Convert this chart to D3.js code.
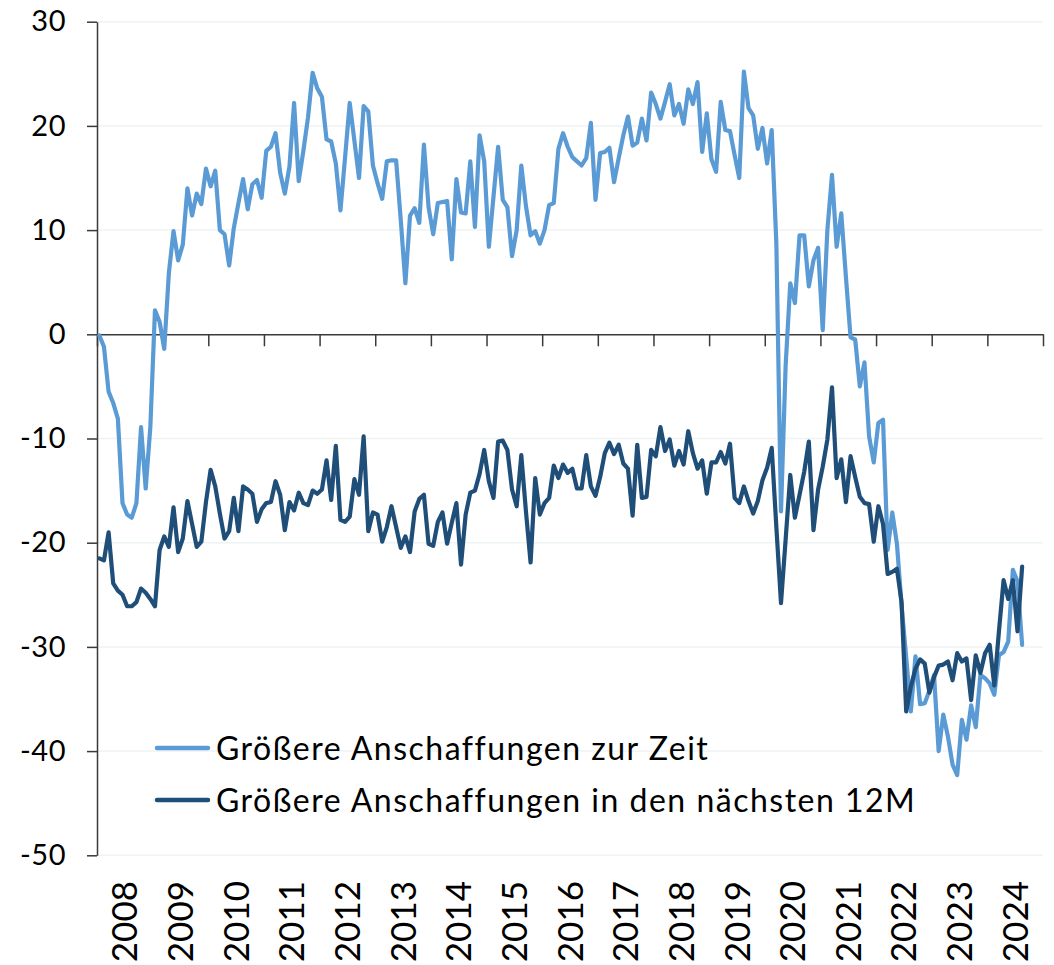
<!DOCTYPE html>
<html>
<head>
<meta charset="utf-8">
<script src="https://cdn.jsdelivr.net/npm/d3@7"></script>
<style>
  body { margin: 0; background: #fff; }
  svg text { font-family: Lato, "Noto Sans", sans-serif; fill: #000; }
</style>
</head>
<body>
<svg id="chart" width="1054" height="965"></svg>
<script>
// Years on the x axis (one band per year)
const years = d3.range(2008, 2025);
const yTicks = [30, 20, 10, 0, -10, -20, -30, -40, -50];

const seriesNames = [
  'Größere Anschaffungen zur Zeit',
  'Größere Anschaffungen in den nächsten 12M',
];

// Monthly values, Jan 2008 .. Aug 2024
const zurZeit = [
  -0.1, -1.2, -5.5, -6.6, -8.1, -16.2, -17.3, -17.6, -16.2, -8.9, -14.8, -8.9,
  2.3, 1.2, -1.4, 5.9, 9.9, 7.1, 8.6, 14.0, 11.4, 13.5, 12.5, 15.9,
  14.2, 15.7, 10.0, 9.6, 6.6, 10.2, 12.6, 14.9, 12.0, 14.4, 14.8, 13.1,
  17.6, 18.0, 19.3, 15.5, 13.5, 16.1, 22.2, 14.7, 17.6, 20.8, 25.1, 23.6,
  22.8, 18.7, 18.5, 16.4, 11.9, 17.0, 22.2, 18.6, 15.0, 21.9, 21.4, 16.2,
  14.5, 13.0, 16.6, 16.7, 16.7, 11.0, 4.9, 11.4, 12.1, 10.7, 18.2, 12.2,
  9.6, 12.6, 12.7, 12.8, 7.2, 14.9, 11.7, 11.6, 16.6, 10.3, 19.1, 16.6,
  8.4, 13.2, 18.0, 12.9, 12.2, 7.5, 10.0, 16.2, 12.3, 9.5, 9.9, 8.7,
  10.0, 12.4, 12.6, 17.8, 19.3, 18.0, 17.0, 16.6, 16.2, 16.9, 20.3, 12.9,
  17.4, 17.5, 17.9, 14.6, 16.9, 19.1, 20.9, 18.1, 18.4, 20.7, 18.6, 23.2,
  22.1, 20.7, 22.3, 24.0, 21.0, 22.1, 20.2, 23.5, 22.1, 24.2, 17.5, 21.2,
  16.8, 15.6, 22.3, 19.6, 19.5, 17.2, 15.0, 25.2, 21.7, 21.0, 17.8, 19.8,
  16.4, 19.6, 8.7, -17.0, -3.0, 4.9, 3.0, 9.5, 9.5, 4.6, 7.1, 8.3,
  0.4, 10.0, 15.3, 8.4, 11.6, 5.5, -0.3, -0.5, -5.0, -2.7, -9.8, -12.3,
  -8.5, -8.2, -20.7, -17.1, -20.1, -26.0, -31.0, -36.2, -30.9, -35.5, -35.4, -34.2,
  -32.7, -40.0, -36.5, -38.6, -41.3, -42.3, -37.0, -38.9, -35.6, -37.7, -32.7, -33.0,
  -33.5, -34.6, -30.8, -30.5, -29.5, -22.6, -23.7, -29.8,
];

const naechste12M = [
  -21.5, -21.7, -19.0, -23.9, -24.6, -25.0, -26.1, -26.1, -25.7, -24.4, -24.8, -25.4,
  -26.1, -20.7, -19.4, -20.4, -16.6, -20.9, -19.6, -16.0, -18.2, -20.4, -19.9, -16.1,
  -13.0, -14.6, -17.2, -19.6, -18.9, -15.7, -18.9, -14.6, -14.9, -15.3, -18.0, -16.8,
  -16.2, -16.1, -14.1, -15.4, -18.8, -16.1, -16.9, -15.2, -16.2, -16.4, -15.0, -15.3,
  -14.9, -12.1, -15.9, -10.7, -17.8, -18.0, -17.5, -13.9, -15.4, -9.8, -18.9, -17.1,
  -17.3, -19.9, -18.5, -16.5, -18.5, -20.5, -19.4, -20.9, -17.0, -15.8, -15.4, -20.1,
  -20.3, -18.0, -17.1, -20.1, -18.1, -16.2, -22.1, -17.3, -15.2, -15.0, -13.4, -11.1,
  -14.1, -15.7, -10.3, -10.2, -11.1, -14.9, -16.5, -11.6, -17.0, -21.9, -13.8, -17.3,
  -16.2, -15.7, -12.6, -13.8, -12.5, -13.3, -12.9, -14.8, -14.8, -11.6, -14.6, -15.5,
  -13.7, -11.4, -10.4, -11.5, -10.6, -12.4, -12.9, -17.4, -10.6, -15.7, -15.6, -11.1,
  -11.7, -8.9, -11.2, -10.1, -12.6, -11.2, -12.5, -9.3, -11.4, -12.9, -12.1, -15.3,
  -12.3, -12.3, -11.3, -12.4, -10.5, -15.7, -16.2, -14.6, -16.0, -17.2, -16.0, -14.0,
  -12.8, -10.9, -18.5, -25.8, -19.7, -13.5, -17.6, -15.4, -13.2, -10.3, -18.8, -14.9,
  -12.7, -10.1, -5.1, -13.8, -12.0, -16.1, -11.7, -13.7, -15.6, -16.2, -16.3, -19.9,
  -16.5, -18.2, -23.0, -22.8, -22.5, -25.7, -36.2, -33.8, -32.1, -31.2, -31.6, -34.4,
  -32.9, -31.8, -31.7, -31.4, -33.2, -30.6, -31.4, -31.1, -35.1, -30.8, -32.5, -30.6,
  -29.8, -33.7, -28.5, -23.6, -25.4, -23.6, -28.5, -22.3,
];

const colors = ['#5b9bd5', '#1f4e79'];

const width = 1054;
const height = 965;
const margin = { top: 21.7, right: 11, bottom: 109.7, left: 97 };

const svg = d3.select('#chart');

const x = d3.scaleLinear()
  .domain([2008, 2025])
  .range([margin.left, width - margin.right]);

const y = d3.scaleLinear()
  .domain([-50, 30])
  .range([height - margin.bottom, margin.top]);

// month index -> decimal year, points sit in the middle of each month
const monthPos = (i) => 2008 + (i + 0.5) / 12;

// Horizontal gridlines
svg.append('g')
  .selectAll('line')
  .data(yTicks.filter((d) => d !== 0))
  .enter()
  .append('line')
  .attr('x1', x(2008))
  .attr('x2', x(2025))
  .attr('y1', (d) => y(d))
  .attr('y2', (d) => y(d))
  .attr('stroke', '#eef3f3')
  .attr('stroke-width', 1.5);

// Y axis (plain hyphen for negatives, like the original)
const yAxis = svg.append('g')
  .attr('transform', `translate(${x(2008)},0)`)
  .call(d3.axisLeft(y)
    .tickValues(yTicks)
    .tickSize(10)
    .tickPadding(21)
    .tickSizeOuter(0)
    .tickFormat((d) => String(d)));

yAxis.select('.domain').attr('stroke', '#3a3a3a').attr('stroke-width', 1.5);
yAxis.selectAll('.tick line').attr('stroke', '#3a3a3a').attr('stroke-width', 1.5);
yAxis.selectAll('.tick text')
  .attr('font-size', 29)
  .attr('font-family', 'Lato, "Noto Sans", sans-serif')
  .attr('letter-spacing', 0.5)
  .attr('fill', '#000');

// X axis on the zero line, ticks only
const xAxis = svg.append('g')
  .attr('transform', `translate(0,${y(0)})`)
  .call(d3.axisBottom(x)
    .tickValues(d3.range(2008, 2026))
    .tickSize(12)
    .tickSizeOuter(0)
    .tickFormat(''));

xAxis.select('.domain').attr('stroke', '#3a3a3a').attr('stroke-width', 1.5);
xAxis.selectAll('.tick line').attr('stroke', '#3a3a3a').attr('stroke-width', 1.5);

// Year labels at the bottom, rotated
svg.append('g')
  .selectAll('text')
  .data(years)
  .enter()
  .append('text')
  .attr('transform', (d) => `translate(${x(d + 0.5)},881) rotate(-90)`)
  .attr('dy', '0.36em')
  .attr('text-anchor', 'end')
  .attr('font-size', 35)
  .text((d) => d);

// Lines
const line = d3.line()
  .x((d, i) => x(monthPos(i)))
  .y((d) => y(d));

[zurZeit, naechste12M].forEach((series, k) => {
  svg.append('path')
    .datum(series)
    .attr('fill', 'none')
    .attr('stroke', colors[k])
    .attr('stroke-width', 4.2)
    .attr('stroke-linejoin', 'round')
    .attr('stroke-linecap', 'round')
    .attr('d', line);
});

// Legend
const legend = svg.append('g');
const legendY = [748, 800];

seriesNames.forEach((name, k) => {
  legend.append('line')
    .attr('x1', 157)
    .attr('x2', 208)
    .attr('y1', legendY[k])
    .attr('y2', legendY[k])
    .attr('stroke', colors[k])
    .attr('stroke-width', 4.5)
    .attr('stroke-linecap', 'round');

  legend.append('text')
    .attr('x', 216)
    .attr('y', legendY[k])
    .attr('dy', '0.36em')
    .attr('font-size', 32)
    .attr('letter-spacing', 1.5)
    .text(name);
});
</script>
</body>
</html>
